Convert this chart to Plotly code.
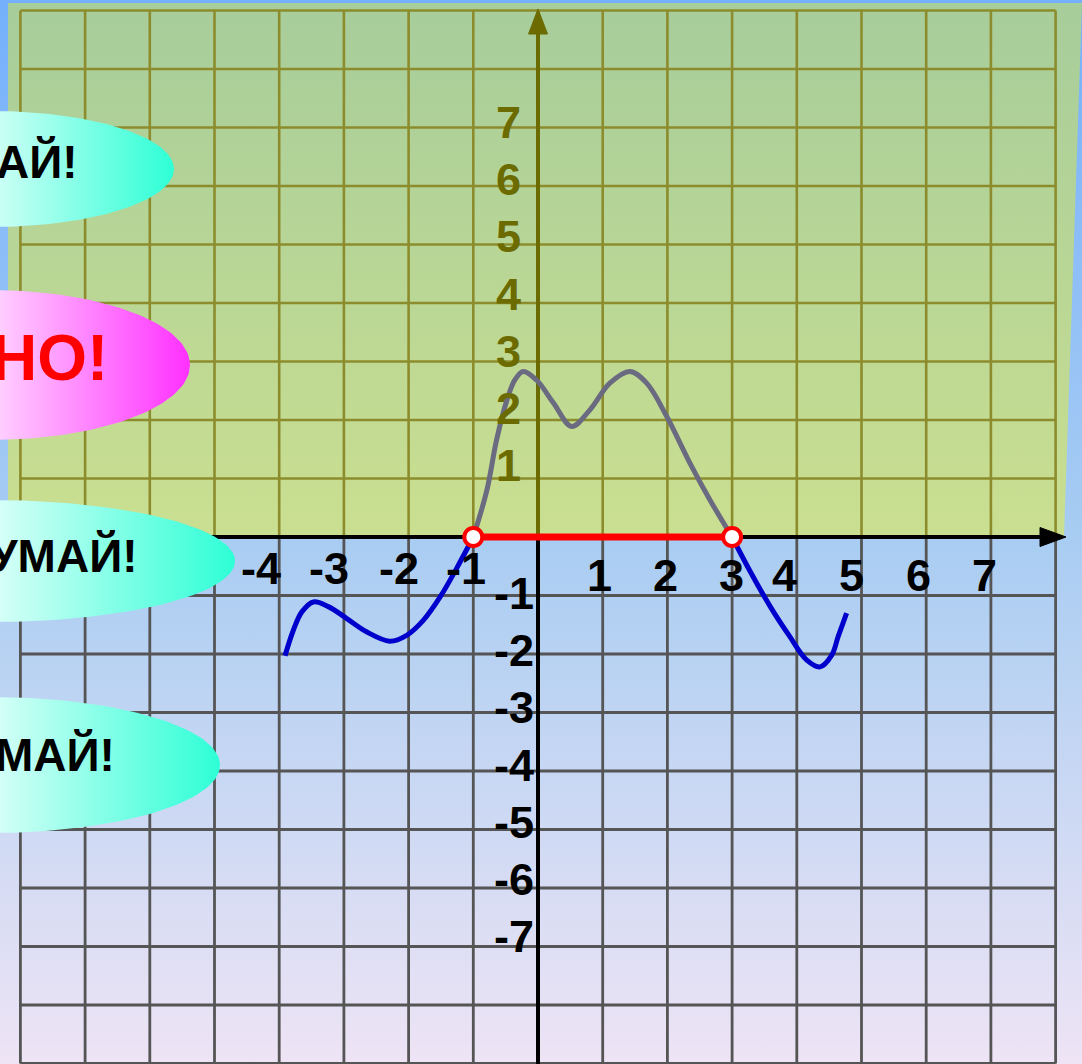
import numpy as np
import plotly.graph_objects as go

# ---------------- data ----------------
x_ticks_neg = [-4, -3, -2, -1]
x_ticks_pos = [1, 2, 3, 4, 5, 6, 7]
y_ticks_pos = [1, 2, 3, 4, 5, 6, 7]
y_ticks_neg = [-1, -2, -3, -4, -5, -6, -7]

gray_x = [-1.0, -0.79, -0.64, -0.48, -0.36, -0.23, -0.02, 0.24, 0.52, 0.80, 1.11, 1.42, 1.68,
          1.99, 2.35, 2.66, 3.0]
gray_y = [0.0, 0.80, 1.66, 2.34, 2.68, 2.83, 2.68, 2.29, 1.89, 2.17, 2.63, 2.83, 2.63,
          2.06, 1.26, 0.63, 0.0]

blue_left_x = [-3.91, -3.78, -3.65, -3.47, -3.24, -2.96, -2.65, -2.29, -2.03, -1.77, -1.51,
               -1.26, -1.0]
blue_left_y = [-2.03, -1.59, -1.28, -1.11, -1.19, -1.39, -1.62, -1.78, -1.68, -1.42, -1.02,
               -0.54, 0.0]

blue_right_x = [3.0, 3.28, 3.59, 3.89, 4.15, 4.36, 4.54, 4.64, 4.77]
blue_right_y = [0.0, -0.59, -1.19, -1.70, -2.10, -2.22, -2.02, -1.70, -1.30]

interval_x = [-1, 3]
interval_y = [0, 0]

bubble_texts = ["АЙ!", "НО!", "УМАЙ!", "МАЙ!"]

# ---------------- layout helpers (pixel geometry) ----------------
W, H = 1082, 1064
X0PX, Y0PX = 538.0, 537.0
UX, UY = 64.7, 58.5


def X(px):
    return (px - X0PX) / UX


def Y(py):
    return (Y0PX - py) / UY


FONT = "Liberation Sans, Arial, sans-serif"
OLIVE_TXT = "#6b6b00"
OLIVE_GRID = "#8c8c2c"
GRAY_GRID = "#555555"

fig = go.Figure()

# page background gradient
fig.add_trace(go.Scatter(
    x=[X(-5), X(W + 5), X(W + 5), X(-5), X(-5)],
    y=[Y(-5), Y(-5), Y(H + 5), Y(H + 5), Y(-5)],
    mode="lines", line=dict(width=0), fill="toself",
    fillgradient=dict(type="vertical",
                      colorscale=[[0, "#eee4f5"], [0.49, "#a9cdf2"], [1, "#74b0fc"]],
                      start=Y(H), stop=Y(0)),
    hoverinfo="skip"))

# green upper area
fig.add_trace(go.Scatter(
    x=[X(8), X(1082), X(1064), X(8), X(8)],
    y=[Y(3), Y(3), Y(537), Y(537), Y(3)],
    mode="lines", line=dict(width=0), fill="toself",
    fillgradient=dict(type="vertical",
                      colorscale=[[0, "#cadf90"], [1, "#a7cd9b"]],
                      start=Y(537), stop=Y(3)),
    hoverinfo="skip"))

# grid lines
grid_x = list(range(-8, 9))
grid_y_up = list(range(1, 10))
grid_y_dn = list(range(-9, 0))


def seg_lines(pairs):
    xs, ys = [], []
    for (xa, ya), (xb, yb) in pairs:
        xs += [xa, xb, None]
        ys += [ya, yb, None]
    return xs, ys


gx, gy = seg_lines([((k, 0), (k, 9)) for k in grid_x] + [((-8, k), (8, k)) for k in grid_y_up])
fig.add_trace(go.Scatter(x=gx, y=gy, mode="lines", line=dict(color=OLIVE_GRID, width=2.6),
                         hoverinfo="skip"))
gx, gy = seg_lines([((k, -9), (k, 0)) for k in grid_x] + [((-8, k), (8, k)) for k in grid_y_dn])
fig.add_trace(go.Scatter(x=gx, y=gy, mode="lines", line=dict(color=GRAY_GRID, width=2.8),
                         hoverinfo="skip"))

# axes
fig.add_trace(go.Scatter(x=[0, 0], y=[0, Y(30)], mode="lines",
                         line=dict(color=OLIVE_TXT, width=4), hoverinfo="skip"))
fig.add_trace(go.Scatter(x=[0, 0], y=[Y(H + 5), 0], mode="lines",
                         line=dict(color="black", width=4), hoverinfo="skip"))
fig.add_trace(go.Scatter(x=[X(528.5), X(538), X(547.5), X(528.5)], y=[Y(34), Y(9), Y(34), Y(34)],
                         mode="lines", fill="toself", fillcolor=OLIVE_TXT,
                         line=dict(color=OLIVE_TXT, width=1), hoverinfo="skip"))
fig.add_trace(go.Scatter(x=[-8.3, X(1042)], y=[0, 0], mode="lines",
                         line=dict(color="black", width=4), hoverinfo="skip"))
fig.add_trace(go.Scatter(x=[X(1040), X(1066), X(1040), X(1040)], y=[Y(527.5), 0, Y(546.5), Y(527.5)],
                         mode="lines", fill="toself", fillcolor="black",
                         line=dict(color="black", width=1), hoverinfo="skip"))

# curves
fig.add_trace(go.Scatter(x=blue_left_x, y=blue_left_y, mode="lines",
                         line=dict(color="#0000cc", width=5, shape="spline", smoothing=1.0),
                         hoverinfo="skip"))
fig.add_trace(go.Scatter(x=blue_right_x, y=blue_right_y, mode="lines",
                         line=dict(color="#0000cc", width=5, shape="spline", smoothing=1.0),
                         hoverinfo="skip"))
fig.add_trace(go.Scatter(x=gray_x, y=gray_y, mode="lines",
                         line=dict(color="#6a6a80", width=5, shape="spline", smoothing=1.0),
                         hoverinfo="skip"))
fig.add_trace(go.Scatter(x=interval_x, y=interval_y, mode="lines+markers",
                         line=dict(color="#ff0000", width=7),
                         marker=dict(size=18, color="white", line=dict(color="#ff0000", width=4)),
                         hoverinfo="skip"))

# speech bubbles (ellipses cut by the left edge)
bubbles = [
    # cx, cy, a, b, colour, text colour, font size, text right px, text center py
    (-10, 169, 184, 58, "#2effd6", "black", 46, 80, 162),
    (-10, 365, 200, 75, "#ff30ff", "#ff0000", 64, 110, 358),
    (-10, 561, 245, 61, "#2effd6", "black", 46, 140, 556),
    (-10, 765, 230, 68, "#2effd6", "black", 46, 117, 755),
]
t = np.linspace(0, 2 * np.pi, 181)
annotations = []
for (cx, cy, a, b, col, tcol, fs, trx, tcy), txt in zip(bubbles, bubble_texts):
    ex = [X(cx + a * np.cos(v)) for v in t]
    ey = [Y(cy + b * np.sin(v)) for v in t]
    fig.add_trace(go.Scatter(
        x=ex, y=ey, mode="lines", line=dict(width=0), fill="toself",
        fillgradient=dict(type="horizontal",
                          colorscale=[[0, "#ffffff"], [1, col]],
                          start=X(-60), stop=X(cx + a)),
        hoverinfo="skip"))
    annotations.append(dict(x=X(trx), y=Y(tcy), xref="x", yref="y", text=txt, showarrow=False,
                            xanchor="right", yanchor="middle",
                            font=dict(family=FONT, size=fs, color=tcol, weight="bold")))

# tick labels
x_nudge_neg = [-18, -15, -10, -7]
x_nudge_pos = [-3, -2, -1, -12, -10, -8, -6]
for v, n in zip(x_ticks_neg, x_nudge_neg):
    annotations.append(dict(x=X(X0PX + v * UX + n), y=Y(568), xref="x", yref="y", text=str(v),
                            showarrow=False, xanchor="center", yanchor="middle",
                            font=dict(family=FONT, size=45, color="black", weight="bold")))
for v, n in zip(x_ticks_pos, x_nudge_pos):
    annotations.append(dict(x=X(X0PX + v * UX + n), y=Y(575), xref="x", yref="y", text=str(v),
                            showarrow=False, xanchor="center", yanchor="middle",
                            font=dict(family=FONT, size=45, color="black", weight="bold")))
LBL_STEP = 57.25
for v in y_ticks_pos:
    annotations.append(dict(x=X(508), y=Y(Y0PX - v * LBL_STEP - 14), xref="x", yref="y", text=str(v),
                            showarrow=False, xanchor="center", yanchor="middle",
                            font=dict(family=FONT, size=45, color=OLIVE_TXT, weight="bold")))
for v in y_ticks_neg:
    annotations.append(dict(x=X(536), y=Y(Y0PX - v * LBL_STEP - 1), xref="x", yref="y", text=str(v),
                            showarrow=False, xanchor="right", yanchor="middle",
                            font=dict(family=FONT, size=45, color="black", weight="bold")))

fig.update_layout(
    width=W, height=H, autosize=False,
    margin=dict(l=0, r=0, t=0, b=0, pad=0),
    paper_bgcolor="white", plot_bgcolor="white",
    showlegend=False,
    xaxis=dict(range=[X(0), X(W)], visible=False, fixedrange=True),
    yaxis=dict(range=[Y(H), Y(0)], visible=False, fixedrange=True),
    annotations=annotations,
)

fig.write_html("out.html", config={"displayModeBar": False},
               post_script="document.body.style.margin='0';document.body.style.overflow='hidden';")
